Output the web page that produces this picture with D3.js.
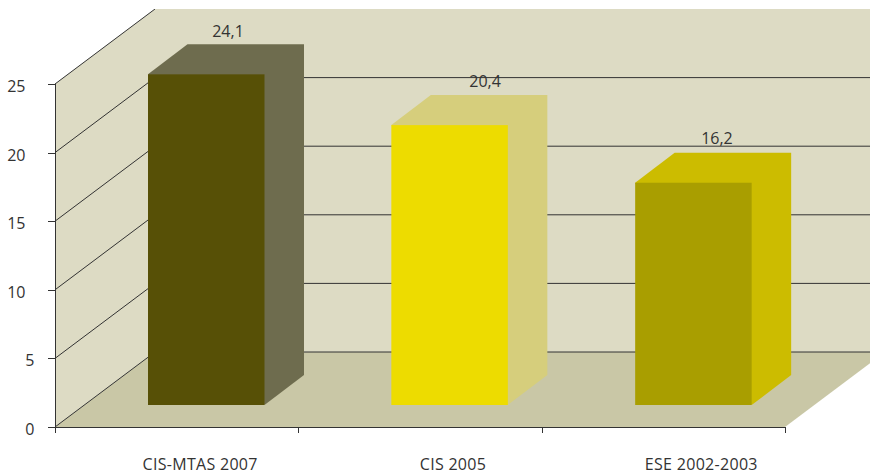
<!DOCTYPE html>
<html><head><meta charset="utf-8">
<script src="https://cdn.jsdelivr.net/npm/d3@7"></script>
<style>html,body{margin:0;padding:0;background:#fff}svg{display:block}text{font-family:"Open Sans",sans-serif;fill:#333;font-size:16px}</style>
</head><body><div id="c"></div>
<script>
const categories = ["CIS-MTAS 2007","CIS 2005","ESE 2002-2003"];
const values = [24.1,20.4,16.2];
const valueLabels = ["24,1","20,4","16,2"];
const yTicks = [0,5,10,15,20,25];
const frontColors = ["#575006","#EDDC00","#A99E00"];
const sideColors = ["#6E6C4E","#D6CE7C","#CCBC00"];

const W=870,H=474;
const svg=d3.select("#c").append("svg").attr("width",W).attr("height",H);
svg.append("defs").append("clipPath").attr("id","clip").append("rect").attr("x",0).attr("y",9).attr("width",W).attr("height",H-9);
const g=svg.append("g").attr("clip-path","url(#clip)");
const x=d3.scaleBand().domain(categories).range([55,785]);
const y=d3.scaleLinear().domain([0,25]).range([427,84]);
const DX=100,DY=75,bdx=39.5,bdy=30,barW=116.5,barBase=22;
const barLeft=[93,93,93.5], labelNudge=[23.5,33,38], valNudge=[173,186.7,175.3], valGap=[7,8,9];
const pts=a=>a.map(p=>p.join(",")).join(" ");
const x0=x.range()[0],x1=x.range()[1];
g.append("polygon").attr("points",pts([[x0,y(25)],[x0+DX,y(25)-DY],[x0+DX,y(0)-DY],[x0,y(0)]])).attr("fill","#DDDBC4");
g.append("polygon").attr("points",pts([[x0+DX,y(25)-DY],[x1+DX,y(25)-DY],[x1+DX,y(0)-DY],[x0+DX,y(0)-DY]])).attr("fill","#DDDBC4");
g.append("polygon").attr("points",pts([[x0,y(0)],[x0+DX,y(0)-DY],[x1+DX,y(0)-DY],[x1,y(0)]])).attr("fill","#C9C7A6");
yTicks.forEach(t=>{
  g.append("path").attr("d",`M${x0},${y(t)}L${x0+DX},${y(t)-DY}`+(t<25?`H${x1+DX}`:"")).attr("fill","none").attr("stroke","#333").attr("stroke-width",1);
});
categories.forEach((c,i)=>{
  const l=x(c)+barLeft[i], r=l+barW, b=y(0)-barBase, t=b-(y(0)-y(values[i]));
  const bar=g.append("g");
  bar.append("path").attr("d",`M${l},${t}L${l+bdx},${t-bdy}H${r+bdx}V${b-bdy}L${r},${b}Z`).attr("fill",sideColors[i]);
  bar.append("rect").attr("x",l).attr("y",t).attr("width",barW).attr("height",b-t).attr("fill",frontColors[i]);
  svg.append("text").attr("x",x(c)+valNudge[i]).attr("y",t-bdy-valGap[i]).attr("text-anchor","middle").text(valueLabels[i]);
  svg.append("text").attr("x",x(c)+x.bandwidth()/2+labelNudge[i]).attr("y",470).attr("text-anchor","middle").attr("letter-spacing",0.3).text(c);
});
const ax=svg.append("g").attr("stroke","#333").attr("stroke-width",1).attr("shape-rendering","crispEdges");
ax.append("line").attr("x1",x0+.5).attr("x2",x0+.5).attr("y1",y(25)).attr("y2",y(0)+6);
ax.append("line").attr("x1",x0-7).attr("x2",x1).attr("y1",y(0)+.5).attr("y2",y(0)+.5);
yTicks.forEach(t=>{
  ax.append("line").attr("x1",x0-7).attr("x2",x0).attr("y1",Math.round(y(t))+.5).attr("y2",Math.round(y(t))+.5);
  svg.append("text").attr("x",t>=10?25.5:34.5).attr("y",y(t)+8).attr("text-anchor","end").text(t);
});
[x1,...categories.map(c=>x(c))].forEach(v=>{
  ax.append("line").attr("x1",Math.round(v)+.5).attr("x2",Math.round(v)+.5).attr("y1",y(0)).attr("y2",y(0)+6);
});
</script></body></html>
